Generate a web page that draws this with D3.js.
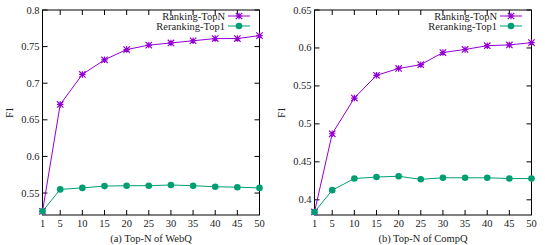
<!DOCTYPE html>
<html>
<head>
<meta charset="utf-8">
<script src="https://cdn.jsdelivr.net/npm/d3@7"></script>
<style>
  body { margin: 0; background: #fff; }
</style>
</head>
<body>
<svg id="chart" width="545" height="245" font-family="'Liberation Serif', 'Times New Roman', Times, serif" font-size="10.5"></svg>
<script>
// データ
var topN = [1, 5, 10, 15, 20, 25, 30, 35, 40, 45, 50];
var webqRanking   = [0.525, 0.671, 0.712, 0.732, 0.746, 0.752, 0.755, 0.758, 0.761, 0.761, 0.765];
var webqReranking = [0.525, 0.555, 0.557, 0.5595, 0.560, 0.560, 0.561, 0.560, 0.5586, 0.558, 0.557];
var compqRanking   = [0.384, 0.487, 0.534, 0.564, 0.573, 0.578, 0.594, 0.598, 0.603, 0.604, 0.607];
var compqReranking = [0.384, 0.4127, 0.428, 0.430, 0.431, 0.427, 0.429, 0.429, 0.429, 0.428, 0.428];
var webqTicks  = [0.55, 0.6, 0.65, 0.7, 0.75, 0.8];
var compqTicks = [0.4, 0.45, 0.5, 0.55, 0.6, 0.65];
var seriesNames = ["Ranking-TopN", "Reranking-Top1"];
var colors = ["#9400d3", "#009e73"];

var svg = d3.select("#chart");

// パネル描画
var drawPanel = function(ox, yDomain, yTicks, ranking, reranking, title){
    var left = ox + 42.5, right = ox + 259.5, top = 10, bottom = 215;
    var x = d3.scaleLinear().domain([1, 50]).range([left, right]);
    var y = d3.scaleLinear().domain(yDomain).range([bottom, top]);
    var g = svg.append("g");
    var tl = 5;

    // 目盛り (内向き, 上下左右)
    topN.forEach(function(v){
        g.append("line").attr("x1", x(v)).attr("x2", x(v)).attr("y1", bottom).attr("y2", bottom - tl).attr("stroke", "#000");
        g.append("line").attr("x1", x(v)).attr("x2", x(v)).attr("y1", top).attr("y2", top + tl).attr("stroke", "#000");
        g.append("text").attr("x", x(v)).attr("y", bottom + 12).attr("text-anchor", "middle").attr("fill", "#222").text(v);
    });
    yTicks.forEach(function(v){
        g.append("line").attr("x1", left).attr("x2", left + tl).attr("y1", y(v)).attr("y2", y(v)).attr("stroke", "#000");
        g.append("line").attr("x1", right).attr("x2", right - tl).attr("y1", y(v)).attr("y2", y(v)).attr("stroke", "#000");
        g.append("text").attr("x", left - 3).attr("y", y(v) + 3.5).attr("text-anchor", "end").attr("fill", "#222").text(v);
    });

    // 枠
    g.append("rect").attr("x", left).attr("y", top).attr("width", right - left).attr("height", bottom - top)
        .attr("fill", "none").attr("stroke", "#000");

    var line = d3.line().x(function(d, i){ return x(topN[i]); }).y(function(d){ return y(d); });
    g.append("path").datum(ranking).attr("d", line).attr("fill", "none").attr("stroke", colors[0]).attr("stroke-width", 1);
    g.append("path").datum(reranking).attr("d", line).attr("fill", "none").attr("stroke", colors[1]).attr("stroke-width", 1);

    var star = function(cx, cy){
        var s = 3.2;
        g.append("path")
            .attr("d", "M" + (cx - s) + "," + cy + "H" + (cx + s) + "M" + cx + "," + (cy - s) + "V" + (cy + s) +
                "M" + (cx - s) + "," + (cy - s) + "L" + (cx + s) + "," + (cy + s) +
                "M" + (cx - s) + "," + (cy + s) + "L" + (cx + s) + "," + (cy - s))
            .attr("stroke", colors[0]).attr("stroke-width", 1.2).attr("fill", "none");
    };
    ranking.forEach(function(d, i){ star(x(topN[i]), y(d)); });
    reranking.forEach(function(d, i){
        g.append("circle").attr("cx", x(topN[i])).attr("cy", y(d)).attr("r", 3.3).attr("fill", colors[1]);
    });

    // 凡例
    var lx = ox + 228, ly = [16, 26];
    seriesNames.forEach(function(n, i){
        g.append("text").attr("x", lx - 3).attr("y", ly[i] + 3.5).attr("text-anchor", "end").attr("fill", "#222").text(n);
        g.append("line").attr("x1", lx).attr("x2", lx + 22).attr("y1", ly[i]).attr("y2", ly[i]).attr("stroke", colors[i]);
    });
    star(lx + 11, ly[0]);
    g.append("circle").attr("cx", lx + 11).attr("cy", ly[1]).attr("r", 3.3).attr("fill", colors[1]);

    // ラベル
    g.append("text").attr("transform", "translate(" + (ox + 13) + "," + ((top + bottom) / 2) + ") rotate(-90)")
        .attr("text-anchor", "middle").attr("fill", "#222").text("F1");
    g.append("text").attr("x", (left + right) / 2).attr("y", 242).attr("text-anchor", "middle").attr("fill", "#222").text(title);
};

drawPanel(0, [0.52, 0.8], webqTicks, webqRanking, webqReranking, "(a) Top-N of WebQ");
drawPanel(272, [0.38, 0.65], compqTicks, compqRanking, compqReranking, "(b) Top-N of CompQ");
</script>
</body>
</html>
